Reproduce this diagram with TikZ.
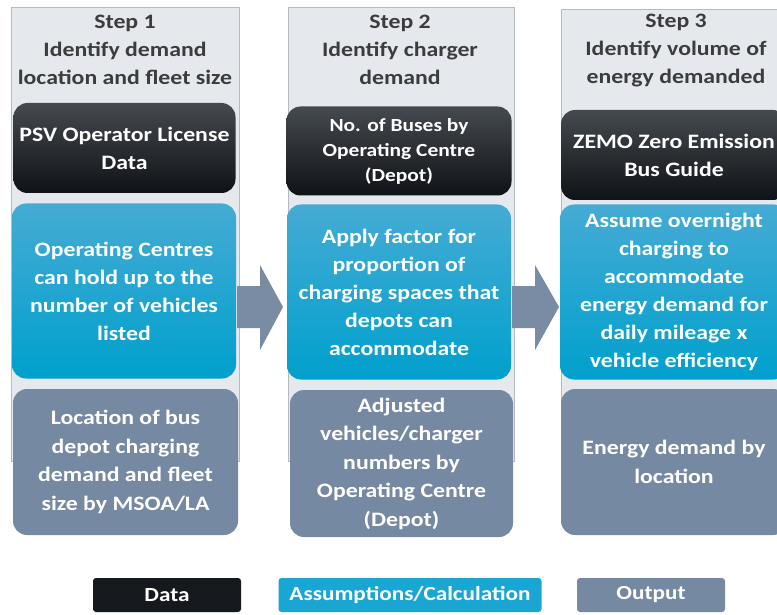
\documentclass[tikz,border=0pt]{standalone}
\usepackage{fontspec}
\setmainfont{Carlito}[FakeStretch=1.16]
\begin{document}
\begin{tikzpicture}[x=1pt,y=-1pt,
  panel/.style={draw=panelline, fill=panelfill, line width=0.8pt},
  head/.style={align=center, text=headtext, font=\bfseries\fontsize{20.5}{28}\selectfont},
  card/.style={rounded corners=14pt, align=center, text=white, inner sep=0pt},
  datacard/.style={card, top color=darktop, bottom color=darkbot, font=\bfseries\fontsize{20.5}{28}\selectfont},
  calccard/.style={card, top color=cyantop, bottom color=cyanbot, font=\bfseries\fontsize{20.5}{28}\selectfont},
  outcard/.style={card, fill=outgray, font=\bfseries\fontsize{20.5}{28.5}\selectfont},
  legend/.style={rounded corners=3pt, inner sep=0pt, minimum height=34pt, text=white, font=\bfseries\fontsize{20}{22}\selectfont},
  blockarrow/.style={fill=arrowgray}
]
\definecolor{panelfill}{HTML}{E5E9ED}
\definecolor{panelline}{HTML}{B4BAC0}
\definecolor{headtext}{HTML}{3C3C3C}
\definecolor{darktop}{HTML}{454A50}
\definecolor{darkbot}{HTML}{0F1216}
\definecolor{cyantop}{HTML}{45ABD4}
\definecolor{cyanbot}{HTML}{00A0CD}
\definecolor{outgray}{HTML}{7689A2}
\definecolor{arrowgray}{HTML}{7A8CA4}
\definecolor{legdark}{HTML}{15181C}
\definecolor{legcyan}{HTML}{1AA6D2}

\useasboundingbox (0,0) rectangle (777,615);
\clip (0,0) rectangle (777,615);
\fill[white] (0,0) rectangle (777,615);

% step panels
\draw[panel] (11,7) rectangle (239,461);
\draw[panel] (288,7) rectangle (514,461);
\draw[panel] (561,9) rectangle (789,461);

% step headings
\node[head] (h1) at (125,50) {Step 1\\Identify demand\\location and fleet size};
\node[head] (h2) at (400,50) {Step 2\\Identify charger\\demand};
\node[head] (h3) at (676,51) {Step 3\\Identify volume of\\energy demanded};

% data sources
\node[datacard, minimum width=222pt, minimum height=90pt] (d1) at (124.5,148) {PSV Operator License\\Data};
\node[datacard, minimum width=225pt, minimum height=89pt, font=\bfseries\fontsize{18.5}{25}\selectfont] (d2) at (399,151) {No. of Buses by\\Operating Centre\\(Depot)};
\node[datacard, minimum width=226pt, minimum height=90pt] (d3) at (674,155) {ZEMO Zero Emission\\Bus Guide};

% assumptions and calculations
\node[calccard, minimum width=224pt, minimum height=175pt] (c1) at (124,291) {Operating Centres\\can hold up to the\\number of vehicles\\listed};
\node[calccard, minimum width=224pt, minimum height=175pt] (c2) at (399,292) {Apply factor for\\proportion of\\charging spaces that\\depots can\\accommodate};
\node[calccard, minimum width=228pt, minimum height=175pt] (c3) at (674,292) {Assume overnight\\charging to\\accommodate\\energy demand for\\daily mileage x\\vehicle efficiency};

% outputs
\node[outcard, minimum width=225pt, minimum height=146pt] (o1) at (125.5,462) {Location of bus\\depot charging\\demand and fleet\\size by MSOA/LA};
\node[outcard, minimum width=223pt, minimum height=147pt] (o2) at (401.5,463.5) {Adjusted\\vehicles/charger\\numbers by\\Operating Centre\\(Depot)};
\node[outcard, minimum width=226pt, minimum height=146pt] (o3) at (674,462) {Energy demand by\\location};

% flow arrows between steps
\fill[blockarrow] (237,286) -- (260,286) -- (260,265) -- (283,307) -- (260,350) -- (260,328) -- (237,328) -- cycle;
\fill[blockarrow] (512,286) -- (535,286) -- (535,265) -- (559,307) -- (535,350) -- (535,328) -- (512,328) -- cycle;

% legend
\node[legend, fill=legdark, minimum width=148pt] (l1) at (167,595) {Data};
\node[legend, fill=legcyan, minimum width=263pt] (l2) at (410,595) {Assumptions/Calculation};
\node[legend, fill=outgray, minimum width=148pt] (l3) at (651,595) {Output};
\end{tikzpicture}
\end{document}
